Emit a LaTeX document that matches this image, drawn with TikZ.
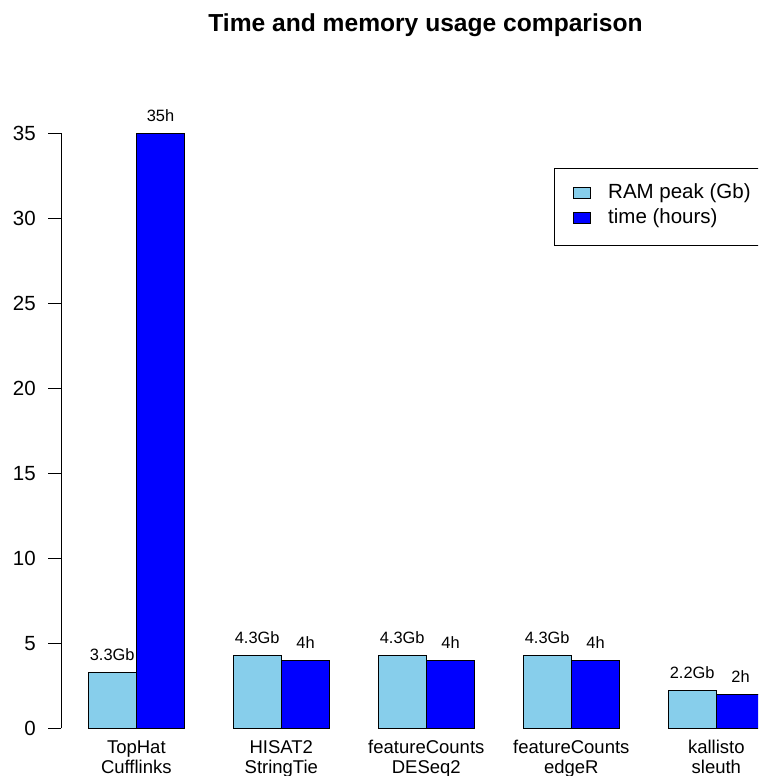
\documentclass[tikz,border=0pt]{standalone}
\usepackage{fontspec}
\setmainfont{Liberation Sans}
\usetikzlibrary{positioning}
\definecolor{ramblue}{HTML}{87CEEB}
\definecolor{timeblue}{HTML}{0000FF}

\begin{document}
\begin{tikzpicture}[
    x=1pt, y=1pt,
    bar/.style={draw, line width=0.8pt},
    rambar/.style={bar, fill=ramblue},
    timebar/.style={bar, fill=timeblue},
    val/.style={anchor=base, inner sep=0pt, font=\fontsize{16.4}{19}\selectfont},
    ticklab/.style={anchor=east, inner sep=0pt, font=\fontsize{20.5}{24}\selectfont},
    grp/.style={anchor=base, inner sep=0pt, font=\fontsize{18.5}{22}\selectfont},
    legtext/.style={anchor=base west, inner sep=0pt, font=\fontsize{20.5}{24}\selectfont},
  ]
  \useasboundingbox (0,0) rectangle (758,776);
  \clip (0,0) rectangle (758,776);

  \node[anchor=base, inner sep=0pt, font=\bfseries\fontsize{24.6}{29}\selectfont]
    (title) at (425.5,744) {Time and memory usage comparison};

  % y axis, value v sits at 47.7+17v
  \draw[line width=0.9pt] (61,47.7) -- (61,642.7);
  \foreach \v in {0,5,...,35} {
    \draw[line width=0.9pt] (48,47.7+17*\v) -- (61,47.7+17*\v);
    \node[ticklab] (tick\v) at (36,47.7+17*\v) {\v};
  }

  % bars, one group per pipeline
  \foreach \i/\ram/\hrs/\ramlab/\hrslab/\namea/\nameb in {
      0/3.3/35/3.3Gb/35h/TopHat/Cufflinks,
      1/4.3/4/4.3Gb/4h/HISAT2/StringTie,
      2/4.3/4/4.3Gb/4h/featureCounts/DESeq2,
      3/4.3/4/4.3Gb/4h/featureCounts/edgeR,
      4/2.2/2/2.2Gb/2h/kallisto/sleuth} {
    \pgfmathsetmacro{\xa}{88+145*\i}
    \pgfmathsetmacro{\xb}{\xa+48.33}
    \pgfmathsetmacro{\xc}{\xa+96.67}
    \draw[rambar] (\xa,47.7) rectangle (\xb,47.7+17*\ram);
    \draw[timebar] (\xb,47.7) rectangle (\xc,47.7+17*\hrs);
    \node[val] (ram\i) at (\xa+24.17,59.7+17*\ram) {\ramlab};
    \node[val] (hrs\i) at (\xb+24.17,59.7+17*\hrs) {\hrslab};
    \node[grp] (name\i a) at (\xb,22.5) {\namea};
    \node[grp] (name\i b) at (\xb,2.5) {\nameb};
  }

  % legend
  \draw[line width=0.8pt] (554,531) rectangle (775,607.7);
  \draw[rambar] (573,577.5) rectangle (590,588.5);
  \draw[timebar] (573,552.5) rectangle (590,563.5);
  \node[legtext] (legram) at (608,577.7) {RAM peak (Gb)};
  \node[legtext] (leghrs) at (608,552.7) {time (hours)};
\end{tikzpicture}
\end{document}
